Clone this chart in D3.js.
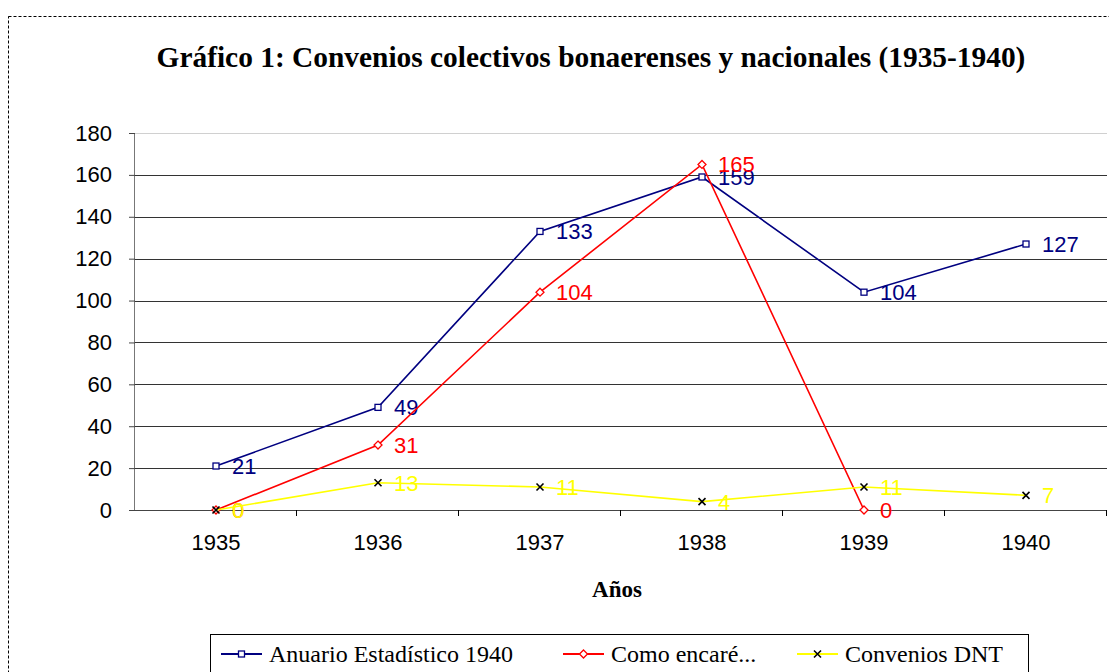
<!DOCTYPE html>
<html>
<head>
<meta charset="utf-8">
<script src="https://cdn.jsdelivr.net/npm/d3@7"></script>
<style>
  body { margin: 0; background: #fff; }
  svg { display: block; }
</style>
</head>
<body>
<div id="chart"></div>
<script>
const years     = ["1935", "1936", "1937", "1938", "1939", "1940"];
const anuario   = [21, 49, 133, 159, 104, 127];
const comoEncare = [0, 31, 104, 165, 0, null];
const dnt       = [0, 13, 11, 4, 11, 7];
const yTicks    = [0, 20, 40, 60, 80, 100, 120, 140, 160, 180];

const series = [
  {name: "Anuario Estadístico 1940", values: anuario, line: "#000080", label: "#000080", marker: "square"},
  {name: "Como encaré...", values: comoEncare, line: "#FF0000", label: "#FF0000", marker: "diamond"},
  {name: "Convenios DNT", values: dnt, line: "#FFFF00", label: "#FFFF00", marker: "cross"}
];

const W = 1109, H = 672;
let margin = {top: 133, right: 2, bottom: 162, left: 135},
    width = W - margin.left - margin.right,
    height = H - margin.top - margin.bottom;

let svg = d3.select("#chart")
  .append("svg")
    .attr("width", W)
    .attr("height", H);

// dashed frame
svg.append("rect")
   .attr("x", 8.5).attr("y", 16.5)
   .attr("width", W + 20).attr("height", H + 20)
   .attr("fill", "none")
   .attr("stroke", "#000")
   .attr("stroke-dasharray", "3,2");

svg.append("text")
   .attr("x", 591).attr("y", 67)
   .attr("text-anchor", "middle")
   .attr("font-family", "Liberation Serif, Times New Roman, serif")
   .attr("font-weight", "bold")
   .attr("font-size", 29.4)
   .text("Gráfico 1: Convenios colectivos bonaerenses y nacionales (1935-1940)");

let g = svg.append("g")
   .attr("transform", `translate(${margin.left}, ${margin.top})`);

let x = d3.scaleBand()
  .domain(years)
  .range([0, width]);

let y = d3.scaleLinear()
  .domain([0, 180])
  .range([height, 0]);

// gridlines
g.selectAll("line.grid")
  .data(yTicks.filter(d => d > 0))
  .join("line")
    .attr("class", "grid")
    .attr("x1", 0).attr("x2", width)
    .attr("y1", d => Math.round(y(d)) + 0.5)
    .attr("y2", d => Math.round(y(d)) + 0.5)
    .attr("stroke", d => d === 180 ? "#d0d0d0" : "#333")
    .attr("stroke-width", 1);

// y axis
let yAxis = g.append("g")
  .call(d3.axisLeft(y).tickValues(yTicks).tickSize(6).tickPadding(17));
yAxis.select(".domain").attr("stroke", "#777").attr("d", `M-0.5,${height}V0`);
yAxis.selectAll(".tick line").attr("stroke", "#444");
yAxis.selectAll("text")
  .attr("font-family", "Liberation Sans, Arial, sans-serif")
  .attr("font-size", 22)
  .attr("fill", "#000");

// x axis
let xAxis = g.append("g")
  .attr("transform", `translate(0, ${height})`)
  .call(d3.axisBottom(x).tickSize(0).tickPadding(24));
xAxis.select(".domain").attr("stroke", "#444").attr("d", `M0,0.5H${width}`);
xAxis.selectAll("text")
  .attr("font-family", "Liberation Sans, Arial, sans-serif")
  .attr("font-size", 22)
  .attr("fill", "#000");

g.append("g")
  .attr("transform", `translate(0, ${height})`)
  .selectAll("line")
  .data(years)
  .join("line")
    .attr("x1", d => Math.round(x(d) + x.bandwidth()) - 0.5)
    .attr("x2", d => Math.round(x(d) + x.bandwidth()) - 0.5)
    .attr("y1", 0).attr("y2", 6)
    .attr("stroke", "#000");

svg.append("text")
   .attr("x", 617).attr("y", 597)
   .attr("text-anchor", "middle")
   .attr("font-family", "Liberation Serif, Times New Roman, serif")
   .attr("font-weight", "bold")
   .attr("font-size", 23)
   .text("Años");

const cx = d => x(d) + x.bandwidth() / 2;

function drawMarker(sel, type, color) {
  if (type === "square") {
    sel.append("rect")
      .attr("x", -3).attr("y", -3).attr("width", 6).attr("height", 6)
      .attr("fill", "#fff").attr("stroke", color).attr("stroke-width", 1.3);
  } else if (type === "diamond") {
    sel.append("path")
      .attr("d", "M0,-4L4,0L0,4L-4,0Z")
      .attr("fill", "#fff").attr("stroke", color).attr("stroke-width", 1.3);
  } else {
    sel.append("path")
      .attr("d", "M-3.5,-3.5L3.5,3.5M-3.5,3.5L3.5,-3.5")
      .attr("stroke", "#000").attr("stroke-width", 1.6);
  }
}

series.forEach(s => {
  let pts = years.map((yr, i) => ({yr, v: s.values[i]}));
  g.append("path")
    .datum(pts)
    .attr("fill", "none")
    .attr("stroke", s.line)
    .attr("stroke-width", 1.6)
    .attr("d", d3.line()
      .defined(d => d.v !== null)
      .x(d => cx(d.yr))
      .y(d => y(d.v)));

  let valid = pts.filter(d => d.v !== null);
  valid.forEach(d => {
    let m = g.append("g").attr("transform", `translate(${cx(d.yr)}, ${y(d.v)})`);
    drawMarker(m, s.marker, s.line);
  });

  g.selectAll(null)
    .data(valid)
    .join("text")
      .attr("x", d => cx(d.yr) + 16)
      .attr("y", d => y(d.v))
      .attr("dy", "0.36em")
      .attr("font-family", "Liberation Sans, Arial, sans-serif")
      .attr("font-size", 22)
      .attr("fill", s.label)
      .text(d => d.v);
});

// legend
let legend = svg.append("g");
legend.append("rect")
  .attr("x", 210.5).attr("y", 634.5)
  .attr("width", 818).attr("height", 60)
  .attr("fill", "#fff")
  .attr("stroke", "#000");

const legendX = [221, 563, 797];
series.forEach((s, i) => {
  let lg = legend.append("g").attr("transform", `translate(${legendX[i]}, 654)`);
  lg.append("line")
    .attr("x1", 0).attr("x2", 41)
    .attr("stroke", s.line).attr("stroke-width", 1.8);
  let m = lg.append("g").attr("transform", "translate(20.5, 0)");
  drawMarker(m, s.marker, s.line);
  lg.append("text")
    .attr("x", 48).attr("y", 8)
    .attr("font-family", "Liberation Serif, Times New Roman, serif")
    .attr("font-size", 24)
    .text(s.name);
});
</script>
</body>
</html>
